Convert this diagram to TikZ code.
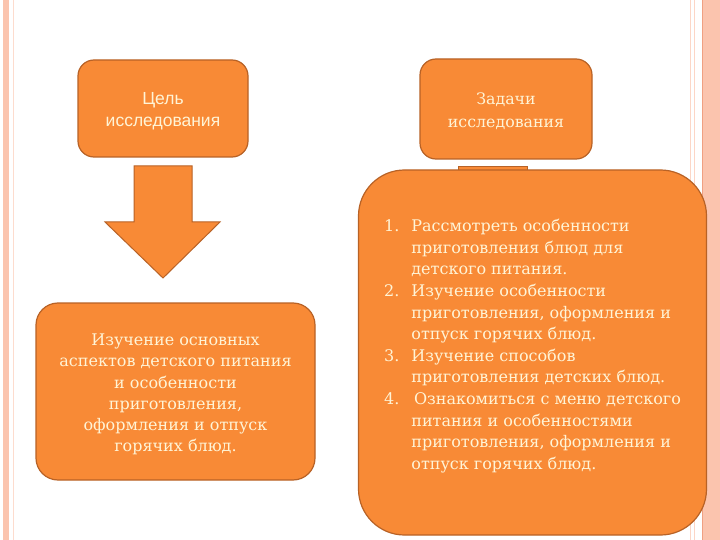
\documentclass[tikz,border=0pt]{standalone}
\usepackage{fontspec}
\setmainfont{DejaVu Serif}
\newfontfamily\headsans{Liberation Sans}
\usepackage{tikz}
\usetikzlibrary{calc}

\definecolor{boxorange}{RGB}{248,138,54}
\definecolor{boxedge}{RGB}{184,98,38}
\definecolor{creamtext}{RGB}{255,244,214}
\definecolor{framepink}{RGB}{251,196,174}
\definecolor{framesalmon}{RGB}{240,160,130}

\tikzset{
  orangebox/.style={draw=boxedge, line width=1.2pt, fill=boxorange, text=creamtext, align=center, inner sep=0pt},
  topbox/.style={orangebox, rounded corners=16pt},
  lowbox/.style={orangebox, rounded corners=22pt},
  bigbox/.style={orangebox, rounded corners=46pt},
  boxtext/.style={text=creamtext, align=center, inner sep=0pt},
  itemtext/.style={text=creamtext, align=left, inner sep=0pt, font=\fontsize{16}{21.6}\selectfont}
}

\begin{document}
\begin{tikzpicture}[x=1pt, y=-1pt]
    % page and frame
    \useasboundingbox (0,0) rectangle (720,540);
    \fill[white] (0,0) rectangle (720,540);
    \fill[framepink] (3,0) rectangle (9,540);
    \draw[framepink!60, line width=0.8pt] (13,0) -- (13,540);
    \draw[framepink!70, line width=0.8pt] (690,0) -- (690,540);
    \draw[framepink!70, line width=0.8pt] (694,0) -- (694,540);
    \fill[framepink] (702,0) rectangle (720,540);
    \draw[framesalmon, line width=0.8pt] (702,0) -- (702,540);

    % upper boxes
    \node[topbox, minimum width=170pt, minimum height=97pt] (goal) at (163,108.5) {};
    \node[boxtext, font=\headsans\fontsize{17.5}{22}\selectfont] (goaltext)
      at ([shift={(0,3)}]goal.center) {Цель\\исследования};
    \node[topbox, minimum width=172pt, minimum height=100pt] (tasks) at (506,109) {};
    \node[boxtext, font=\fontsize{15.8}{22.5}\selectfont] (taskstext)
      at ([shift={(0,2)}]tasks.center) {Задачи\\исследования};

    % block arrow under the goal
    \draw[fill=boxorange, draw=boxedge, line width=1pt]
      (134,166) -- (192,166) -- (192,222) -- (220,222) -- (163,278)
      -- (105,222) -- (134,222) -- cycle;

    % lower left box
    \node[lowbox, minimum width=279pt, minimum height=177pt] (aspects) at (175.5,391.5) {};
    \node[boxtext, font=\fontsize{16}{21.2}\selectfont] (aspectstext)
      at ([shift={(0,3)}]aspects.center)
      {Изучение основных\\аспектов детского питания\\и особенности\\приготовления,\\оформления и отпуск\\горячих блюд.};

    % stub behind the big box
    \draw[fill=boxorange, draw=boxedge, line width=1pt] (458,167) rectangle (527,174);

    % big list box
    \node[bigbox, minimum width=348pt, minimum height=365pt] (list) at (532.5,352.5) {};
    \node[itemtext, anchor=north west] (items) at ([shift={(26,47)}]list.north west)
      {\begin{tabular}{@{}r@{\hspace{12pt}}l@{}}
        1. & Рассмотреть особенности\\
           & приготовления блюд для\\
           & детского питания.\\
        2. & Изучение особенности\\
           & приготовления, оформления и\\
           & отпуск горячих блюд.\\
        3. & Изучение способов\\
           & приготовления детских блюд.\\
        4. & \,Ознакомиться с меню детского\\
           & питания и особенностями\\
           & приготовления, оформления и\\
           & отпуск горячих блюд.
      \end{tabular}};

\end{tikzpicture}
\end{document}
